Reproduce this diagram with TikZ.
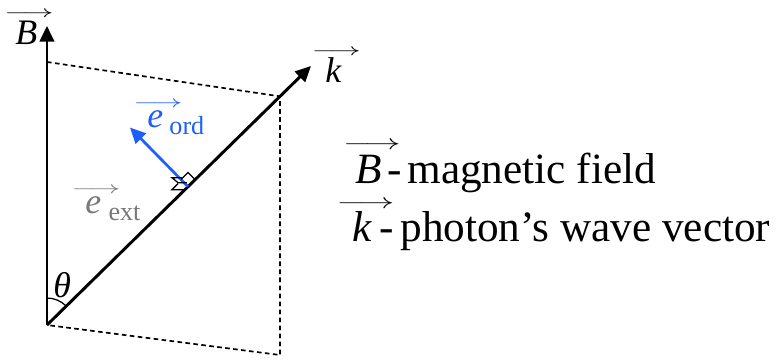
\documentclass[tikz,border=0pt]{standalone}
\usepackage{graphicx}
\usepackage{fontspec}
\setmainfont{Liberation Serif}
\usetikzlibrary{arrows.meta}

\definecolor{ordblue}{RGB}{30,95,250}
\definecolor{extgray}{RGB}{120,120,120}

% letter with a thin arrow above it
\newcommand{\overvec}[2][0.78em]{\ooalign{\textit{#2}\cr
  \hidewidth\kern0.15em\raisebox{#1}{\scalebox{1.7}[1]{$\scriptscriptstyle\longrightarrow$}}\hidewidth\cr}}

\begin{document}
\begin{tikzpicture}[
  every node/.style={font=\fontsize{17}{20}\selectfont, inner sep=0pt, anchor=base west},
  vec/.style={line width=1.4pt, -{Triangle[length=2.6mm,width=2.4mm]}},
  proj/.style={line width=0.8pt, dash pattern=on 2.2pt off 1.6pt},
  legend/.style={font=\fontsize{20.5}{24}\selectfont},
  >=Latex
]

\path[use as bounding box] (0,0) rectangle (13,6);

% Points of the construction.
\coordinate (O)     at (0.783,0.583);
\coordinate (Btip)  at (0.783,5.567);
\coordinate (Bproj) at (0.783,4.967);
\coordinate (ktip)  at (5.183,4.900);
\coordinate (P)     at (4.667,4.394);
\coordinate (Q)     at (4.667,0.083);
\coordinate (F)     at (3.133,2.889);
\coordinate (etip)  at (2.167,3.874);

% Projection box (dashed).
\draw[proj] (Bproj) -- (P) -- (Q) -- (O);

% Field and wave vector.
\draw[vec] (O) -- (Btip);
\draw[vec] (O) -- (ktip);

% Ordinary polarisation vector.
\draw[vec, ordblue, line width=1.3pt] (F) -- (etip);

% Right-angle marks at the foot.
\draw[line width=0.6pt] (F) ++(-0.117,0.119) -- ++(0.119,0.117) -- ++(0.117,-0.119);
\draw[line width=0.6pt] (F) ++(-0.100,0.150) -- ++(-0.167,0) -- ++(0.100,-0.083) -- ++(0.150,0);
\draw[line width=0.6pt] (F) ++(-0.167,0.050) -- ++(-0.100,-0.100) -- ++(0.217,0);

% Angle theta.
\draw[line width=0.6pt] (O) ++(90:0.45) arc[start angle=90, end angle=44.5, radius=0.45];

% Labels.
\node (Blab)  at (0.250,5.250) {\overvec{B}};
\node (klab)  at (5.417,4.617) {\overvec{k}};
\node[text=ordblue] (eord) at (2.450,3.883)
  {\overvec[0.55em]{e}\hspace{0.17em}\raisebox{-0.22em}{\fontsize{12.4}{14}\selectfont ord}};
\node[text=extgray] (eext) at (1.417,2.450)
  {\overvec[0.55em]{e}\hspace{0.2em}\raisebox{-0.22em}{\fontsize{12.4}{14}\selectfont ext}};
\node (theta) at (0.883,1.050) {\textit{θ}};

% Legend.
\node[legend] (legB) at (5.917,2.950)
  {\overvec{B}\hspace{0.13em}-\hspace{0.13em}magnetic field};
\node[legend] (legk) at (5.867,1.967)
  {\overvec{k}\hspace{0.16em}-\hspace{0.16em}photon’s wave vector};

\end{tikzpicture}
\end{document}
